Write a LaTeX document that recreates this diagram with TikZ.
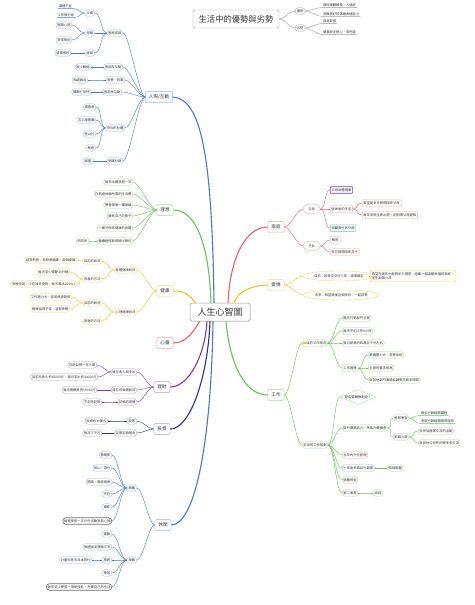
\documentclass[tikz,border=0pt]{standalone}
\usepackage{fontspec}
\setmainfont{Noto Sans CJK TC}
\usetikzlibrary{shapes.geometric,calc,shadows}
\definecolor{cbl}{HTML}{4A78C8}
\definecolor{cblL}{HTML}{9DB6E0}
\definecolor{cgr}{HTML}{6CBF5A}
\definecolor{cgrL}{HTML}{A9D99B}
\definecolor{cye}{HTML}{F0C233}
\definecolor{cyeL}{HTML}{F3D77C}
\definecolor{crd}{HTML}{E8616A}
\definecolor{crdL}{HTML}{EFA4A8}
\definecolor{cpu}{HTML}{7B3FA0}
\definecolor{cpuL}{HTML}{B89BD2}
\definecolor{cnv}{HTML}{2E2F86}
\definecolor{cnvL}{HTML}{A0A2D6}
\definecolor{ctl}{HTML}{5CCFC0}
\definecolor{cgy}{HTML}{9A9A9A}
\definecolor{ctxt}{HTML}{333333}
\newcommand\linkL[3][cbl]{\draw[lk,#1] (#2.west) .. controls +(-6,0) and +(6,0) .. (#3.east);}
\newcommand\linkR[3][cbl]{\draw[lk,#1] (#2.east) .. controls +(6,0) and +(-6,0) .. (#3.west);}
\newcommand\ulL[3][cbl]{\draw[lk,#1] (#2.west) .. controls +(-5,0) and +(5,0) .. (#3.south east) -- (#3.south west);}
\newcommand\ulR[3][cbl]{\draw[lk,#1] (#2.east) .. controls +(5,0) and +(-5,0) .. (#3.south west) -- (#3.south east);}
\tikzset{
  every node/.append style={font=\fontsize{3.3}{4}\selectfont, text=ctxt},
  nd/.style={draw, fill=white, inner xsep=1.3pt, inner ysep=0.8pt, minimum height=6.5pt, minimum width=10pt, line width=0.35pt},
  ov/.style={nd, rounded corners=3pt},
  bx/.style={nd, rounded corners=0.6pt},
  el/.style={draw, fill=white, ellipse, inner sep=0.6pt, minimum height=10pt, minimum width=17pt, line width=0.35pt},
  dm/.style={draw, fill=white, diamond, aspect=2.4, inner sep=0.3pt, line width=0.35pt},
  mainnode/.style={draw, fill=white, rounded corners=1.2pt, inner xsep=3.5pt, minimum height=10pt, font=\fontsize{4.6}{5.5}\selectfont, line width=0.45pt},
  ul/.style={inner xsep=0.8pt, inner ysep=0.7pt},
  lk/.style={line width=0.4pt},
  mlk/.style={line width=1.1pt},
  bold/.style={line width=0.6pt, draw=cgy!70!black},
}
\begin{document}
\begin{tikzpicture}[x=1pt,y=-1pt]
\fill[white] (0,0) rectangle (474,605);
\useasboundingbox (0,0) rectangle (474,605);
% ---------- title ----------
\node[draw=cgy, fill=white, rounded corners=1.5pt, minimum width=86pt, minimum height=18pt, font=\fontsize{8.3}{9}\selectfont, line width=0.45pt] (title) at (236,19) {生活中的優勢與劣勢};
\node[ov,draw=cgy,anchor=west] (t1) at (295,11) {優勢};
\node[ov,draw=cgy,anchor=west] (t2) at (295,28) {劣勢};
\node[ul,anchor=west] (t11) at (322,5) {個性樂觀積極、人緣好};
\node[ul,anchor=west] (t12) at (322,14) {具備良好的溝通表達能力};
\node[ul,anchor=west] (t21) at (322,21) {容易緊張};
\node[ul,anchor=west] (t22) at (322,32) {做事缺乏耐心、常拖延};
\linkR[cgy]{title}{t1}\linkR[cgy]{title}{t2}
\ulR[cgy]{t1}{t11}\ulR[cgy]{t1}{t12}\ulR[cgy]{t2}{t21}\ulR[cgy]{t2}{t22}
% ---------- root & main ----------
\node[draw=cgy, fill=white, rounded corners=1.5pt, minimum width=60pt, minimum height=18pt, font=\fontsize{9}{10}\selectfont, line width=0.5pt, drop shadow={opacity=0.25, shadow xshift=0.7pt, shadow yshift=-0.7pt}] (root) at (220,312) {人生心智圖};
\node[mainnode, draw=cblL] (rj) at (159,97) {人際/互動};
\node[mainnode, draw=cgrL] (lx) at (165,210) {理想};
\node[mainnode, draw=cyeL] (jk) at (165,291) {健康};
\node[mainnode, draw=crdL] (xl) at (165,343) {心靈};
\node[mainnode, draw=cpuL] (lc) at (162,387) {理財};
\node[mainnode, draw=cnvL] (tz) at (162,429) {投資};
\node[mainnode, draw=cblL] (xx) at (163,525) {休閒};
\node[mainnode, draw=crdL] (jt) at (276,227) {家庭};
\node[mainnode, draw=cyeL] (aq) at (276,285) {愛情};
\node[mainnode, draw=cgrL] (gz) at (276,395) {工作};
\draw[mlk,cbl] (rj.east) .. controls +(28,2) and +(-2,-150) .. ($(root.north)+(-6,0)$);
\draw[mlk,cgr] (lx.east) .. controls +(22,0) and +(-2,-60) .. ($(root.north)+(-9,0)$);
\draw[mlk,cye] (jk.east) .. controls +(14,0) and +(-6,-6) .. ($(root.north west)+(6,0)$);
\draw[mlk,crd] (xl.east) .. controls +(15,0) and +(-4,6) .. ($(root.south west)+(10,0)$);
\draw[mlk,cpu] ($(root.south)+(-13,0)$) .. controls +(-2,35) and +(18,0) .. (lc.east);
\draw[mlk,cnv] ($(root.south)+(-10,0)$) .. controls +(-2,55) and +(20,0) .. (tz.east);
\draw[mlk,cbl] ($(root.south)+(-7,0)$) .. controls +(-2,130) and +(22,0) .. (xx.east);
\draw[mlk,crd] ($(root.north)+(8,0)$) .. controls +(2,-45) and +(-22,0) .. (jt.west);
\draw[mlk,cye] ($(root.north)+(14,0)$) .. controls +(4,-12) and +(-14,0) .. (aq.west);
\draw[mlk,cgr] ($(root.south)+(6,0)$) .. controls +(4,45) and +(-22,0) .. (gz.west);
% ---------- 人際互動 ----------
\begin{scope}[every node/.append style={anchor=east}]
\node[ov,draw=cblL] (a1) at (123,33) {家庭成員};
\node[ov,draw=cblL] (a11) at (95,13) {父親};
\node[ov,draw=cblL] (a12) at (95,33) {母親};
\node[ov,draw=cblL] (a13) at (95,53) {妹妹};
\node[ul] (a111) at (73,6) {溝通不足};
\node[ul] (a112) at (75,15) {工作很忙碌};
\node[ov,draw=cblL] (a121) at (72,25) {很關心我};
\node[ov,draw=cblL] (a122) at (72,40) {常常嘮叨};
\node[ov,draw=cblL] (a131) at (71,53) {感情很好};
\node[ov,draw=cblL] (a2) at (123,67) {與朋友互動};
\node[ov,draw=cblL] (a21) at (91,67) {較少聯絡};
\node[ov,draw=cblL] (a3) at (125,80) {同學、同事};
\node[ov,draw=cblL] (a31) at (88,80) {相處融洽};
\node[ov,draw=cblL] (a4) at (122,92) {與鄰居互動};
\node[ov,draw=cblL] (a41) at (91,92) {偶爾打招呼};
\node[ov,draw=cblL] (a5) at (125,128) {參加的社團};
\node[ov,draw=cblL] (a51) at (96,107) {讀書會};
\node[ov,draw=cblL] (a52) at (96,120) {志工服務團};
\node[ov,draw=cblL] (a53) at (96,134) {登山社};
\node[ov,draw=cblL] (a54) at (96,148) {教會};
\node[ov,draw=cblL] (a6) at (123,161) {網路社群};
\node[ov,draw=cblL] (a61) at (93,161) {臉書};
\end{scope}
\foreach \c in {a1,a2,a3,a4,a5,a6} {\linkL[cbl]{rj}{\c}}
\foreach \c in {a11,a12,a13} {\linkL[cbl]{a1}{\c}}
\ulL[cbl]{a11}{a111}\ulL[cbl]{a11}{a112}
\linkL[cbl]{a12}{a121}\linkL[cbl]{a12}{a122}\linkL[cbl]{a13}{a131}
\linkL[cbl]{a2}{a21}\linkL[cbl]{a3}{a31}\linkL[cbl]{a4}{a41}
\foreach \c in {a51,a52,a53,a54} {\linkL[cbl]{a5}{\c}}
\linkL[cbl]{a6}{a61}
% ---------- 理想 ----------
\begin{scope}[every node/.append style={anchor=east}]
\node[ov,draw=cgrL] (b1) at (133,182) {每年出國旅遊一次};
\node[ov,draw=cgrL] (b2) at (133,194) {存夠退休後所需的生活費};
\node[ov,draw=cgrL] (b3) at (133,205) {學會彈奏一種樂器};
\node[ov,draw=cgrL] (b4) at (133,216) {擁有自己的房子};
\node[ov,draw=cgrL] (b5) at (133,228) {一輩子保持健康的身體};
\node[ov,draw=cgrL] (b6) at (133,241) {繼續進修取得碩士學位};
\node[ov,draw=cgrL] (b61) at (89,241) {研究所};
\end{scope}
\foreach \c in {b1,b2,b3,b4,b5,b6} {\linkL[cgr]{lx}{\c}}
\linkL[cgr]{b6}{b61}
% ---------- 健康 ----------
\begin{scope}[every node/.append style={anchor=east}]
\node[ov,draw=cyeL] (c1) at (137,270) {身體健康狀況};
\node[ov,draw=cyeL] (c2) at (137,312) {心理健康狀況};
\node[ov,draw=cyeL] (c11) at (102,261) {目前的狀況};
\node[ov,draw=cyeL] (c12) at (102,279) {改善的方法};
\node[ov,draw=cyeL] (c111) at (77,260) {經常熬夜，有時會頭痛、肩頸痠痛};
\node[ov,draw=cyeL] (c121) at (70,272) {每天至少運動30分鐘};
\node[ov,draw=cyeL] (c122) at (77,284) {早睡早起，少吃油炸食物，每天喝水2000cc};
\node[ov,draw=cyeL] (c21) at (102,303) {目前的狀況};
\node[ov,draw=cyeL] (c22) at (102,321) {改善的方法};
\node[ov,draw=cyeL] (c211) at (72,297) {工作壓力大，容易焦慮緊張};
\node[ov,draw=cyeL] (c212) at (70,309) {睡眠品質不佳，容易失眠};
\end{scope}
\linkL[cye]{jk}{c1}\linkL[cye]{jk}{c2}
\linkL[cye]{c1}{c11}\linkL[cye]{c1}{c12}\linkL[cye]{c2}{c21}\linkL[cye]{c2}{c22}
\linkL[cye]{c11}{c111}\linkL[cye]{c12}{c121}\linkL[cye]{c12}{c122}
\linkL[cye]{c21}{c211}\linkL[cye]{c21}{c212}
% ---------- 理財 / 投資 ----------
\begin{scope}[every node/.append style={anchor=east}]
\node[ov,draw=cpuL] (d1) at (137,372) {每月收入與支出};
\node[ov,draw=cpuL] (d11) at (97,365) {存款目標一年十萬};
\node[ov,draw=cpuL] (d12) at (98,377) {目前月收入約45000元，每月支出約30000元};
\node[ov,draw=cpuL] (d2) at (137,390) {目前的負債狀況};
\node[ov,draw=cpuL] (d21) at (97,390) {每月需繳房貸15000元};
\node[ov,draw=cpuL] (d3) at (137,402) {記帳的習慣};
\node[ov,draw=cpuL] (d31) at (102,402) {不定時記帳};
\node[ov,draw=cnvL] (e1) at (137,421) {股票};
\node[ov,draw=cnvL] (e11) at (108,421) {投資約10萬元};
\node[ov,draw=cnvL] (e2) at (137,433) {定期定額基金};
\node[ov,draw=cnvL] (e21) at (102,433) {每月三千元};
\end{scope}
\linkL[cpu]{lc}{d1}\linkL[cpu]{lc}{d2}\linkL[cpu]{lc}{d3}
\linkL[cpu]{d1}{d11}\linkL[cpu]{d1}{d12}\linkL[cpu]{d2}{d21}\linkL[cpu]{d3}{d31}
\linkL[cnv]{tz}{e1}\linkL[cnv]{tz}{e2}\linkL[cnv]{e1}{e11}\linkL[cnv]{e2}{e21}
% ---------- 休閒 ----------
\begin{scope}[every node/.append style={anchor=east}]
\node[ov,draw=cblL] (f1) at (137,488) {興趣};
\node[ov,draw=cblL] (f11) at (112,455) {看電影};
\node[ov,draw=cblL] (f12) at (112,468) {爬山、旅行};
\node[ov,draw=cblL] (f13) at (112,482) {閱讀、聽音樂會};
\node[ov,draw=cblL] (f14) at (112,494) {烹飪};
\node[ov,draw=cblL] (f15) at (112,507) {攝影};
\node[ov,bold] (f16) at (112,521) {每週安排一次戶外活動放鬆心情};
\node[ov,draw=cblL] (f2) at (137,560) {規劃};
\node[ov,draw=cblL] (f21) at (112,534) {運動};
\node[ov,draw=cblL] (f22) at (112,547) {每週固定慢跑三次};
\node[ov,draw=cblL] (f23) at (112,560) {旅遊};
\node[ov,draw=cblL] (f231) at (92,560) {計畫年底去日本旅行};
\node[ov,draw=cblL] (f24) at (112,573) {學習};
\node[ov,bold] (f25) at (112,587) {每年至少學習一項新技能，充實自己的生活};
\end{scope}
\linkL[cbl]{xx}{f1}\linkL[cbl]{xx}{f2}
\foreach \c in {f11,f12,f13,f14,f15,f16} {\linkL[cbl]{f1}{\c}}
\foreach \c in {f21,f22,f23,f24,f25} {\linkL[cbl]{f2}{\c}}
\linkL[cbl]{f23}{f231}
% ---------- 家庭 ----------
\begin{scope}[every node/.append style={anchor=west}]
\node[el,draw=crdL] (g1) at (303,209) {父母};
\node[el,draw=crdL] (g2) at (303,246) {子女};
\node[bx,draw=cpu,line width=0.55pt] (g11) at (330,190) {父母身體健康};
\node[bx,draw=crdL] (g12) at (330,209) {退休後的生活};
\node[bx,draw=ctl,line width=0.5pt] (g13) at (330,228) {照顧責任的分擔};
\node[bx,draw=crdL] (g121) at (362,203) {希望能多花時間陪伴父母};
\node[bx,draw=crdL] (g122) at (362,215) {每年安排全家出遊，定期帶父母健檢};
\node[bx,draw=crdL] (g21) at (330,240) {教育};
\node[bx,draw=crdL] (g22) at (330,252) {多花時間陪伴孩子};
\end{scope}
\linkR[crd]{jt}{g1}\linkR[crd]{jt}{g2}
\linkR[crd]{g1}{g11}\linkR[crd]{g1}{g12}\linkR[crd]{g1}{g13}
\linkR[crd]{g12}{g121}\linkR[crd]{g12}{g122}
\linkR[crd]{g2}{g21}\linkR[crd]{g2}{g22}
% ---------- 愛情 ----------
\begin{scope}[every node/.append style={anchor=west}]
\node[el,draw=cyeL] (h1) at (303,276) {目前：和男友交往三年，感情穩定};
\node[el,draw=cyeL] (h2) at (303,295) {未來：希望婚後互相扶持，一起成長};
\node[bx,draw=cyeL,line width=0.5pt,align=left,inner sep=1.5pt] (h11) at (370,276) {希望在兩年內能夠步入禮堂，組織一個溫暖幸福的家庭，\\並生兩個小孩};
\end{scope}
\linkR[cye]{aq}{h1}\linkR[cye]{aq}{h2}\linkR[cye]{h1}{h11}
% ---------- 工作 ----------
\begin{scope}[every node/.append style={anchor=west}]
\node[ov,draw=cgrL] (k1) at (302,343) {\textcolor{cye}{\rule{2.4pt}{2.4pt}}\,目前工作現況};
\node[ov,draw=cgrL] (k11) at (342,318) {擔任行銷部門主管};
\node[ov,draw=cgrL] (k12) at (342,331) {每天平均工作9小時};
\node[ov,draw=cgrL] (k13) at (342,343) {每月薪資約四萬五千元左右};
\node[bx,draw=cgrL] (k14) at (342,368) {工作困擾};
\node[ov,draw=cgrL] (k141) at (368,355) {業績壓力大，常需加班};
\node[ov,draw=cgrL] (k142) at (368,368) {主管的要求很高};
\node[ov,draw=cgrL] (k143) at (368,380) {與其他部門溝通協調需花較多時間};
\node[ov,draw=cgrL] (k2) at (302,445) {未來的工作規劃};
\node[dm,draw=cgrL] (k21) at (340,397) {是否要轉換跑道？};
\node[ov,draw=cgrL] (k22) at (342,428) {提升專業能力，爭取升遷機會};
\node[ov,draw=cgrL] (k221) at (393,418) {進修學習};
\node[ov,draw=cgrL] (k222) at (393,437) {拓展人脈};
\node[ul] (k2211) at (420,413) {報名行銷相關課程};
\node[ul] (k2212) at (420,421) {考取行銷相關專業證照};
\node[ov,draw=cgrL] (k2221) at (418,431) {多參加產業交流的活動};
\node[ov,draw=cgrL] (k2222) at (418,443) {與其他公司的同業多多交流};
\node[ov,draw=crdL] (k23) at (342,455) {五年內升任經理};
\node[ov,draw=cblL] (k24) at (342,468) {十年後考慮自行創業};
\node[ov,draw=cgrL] (k241) at (387,468) {開咖啡廳};
\node[ov,draw=cgrL] (k25) at (342,480) {儲蓄資金};
\node[ov,draw=cgrL] (k26) at (342,493) {第二專長};
\node[ov,draw=cgrL] (k261) at (373,493) {烘焙};
\end{scope}
\linkR[cgr]{gz}{k1}\linkR[cgr]{gz}{k2}
\foreach \c in {k11,k12,k13,k14} {\linkR[cgr]{k1}{\c}}
\foreach \c in {k141,k142,k143} {\linkR[cgr]{k14}{\c}}
\foreach \c in {k21,k22,k23,k24,k25,k26} {\linkR[cgr]{k2}{\c}}
\linkR[cgr]{k22}{k221}\linkR[cgr]{k22}{k222}
\ulR[cgr]{k221}{k2211}\ulR[cgr]{k221}{k2212}
\linkR[cgr]{k222}{k2221}\linkR[cgr]{k222}{k2222}
\linkR[cgr]{k24}{k241}\linkR[cgr]{k26}{k261}
\end{tikzpicture}
\end{document}
